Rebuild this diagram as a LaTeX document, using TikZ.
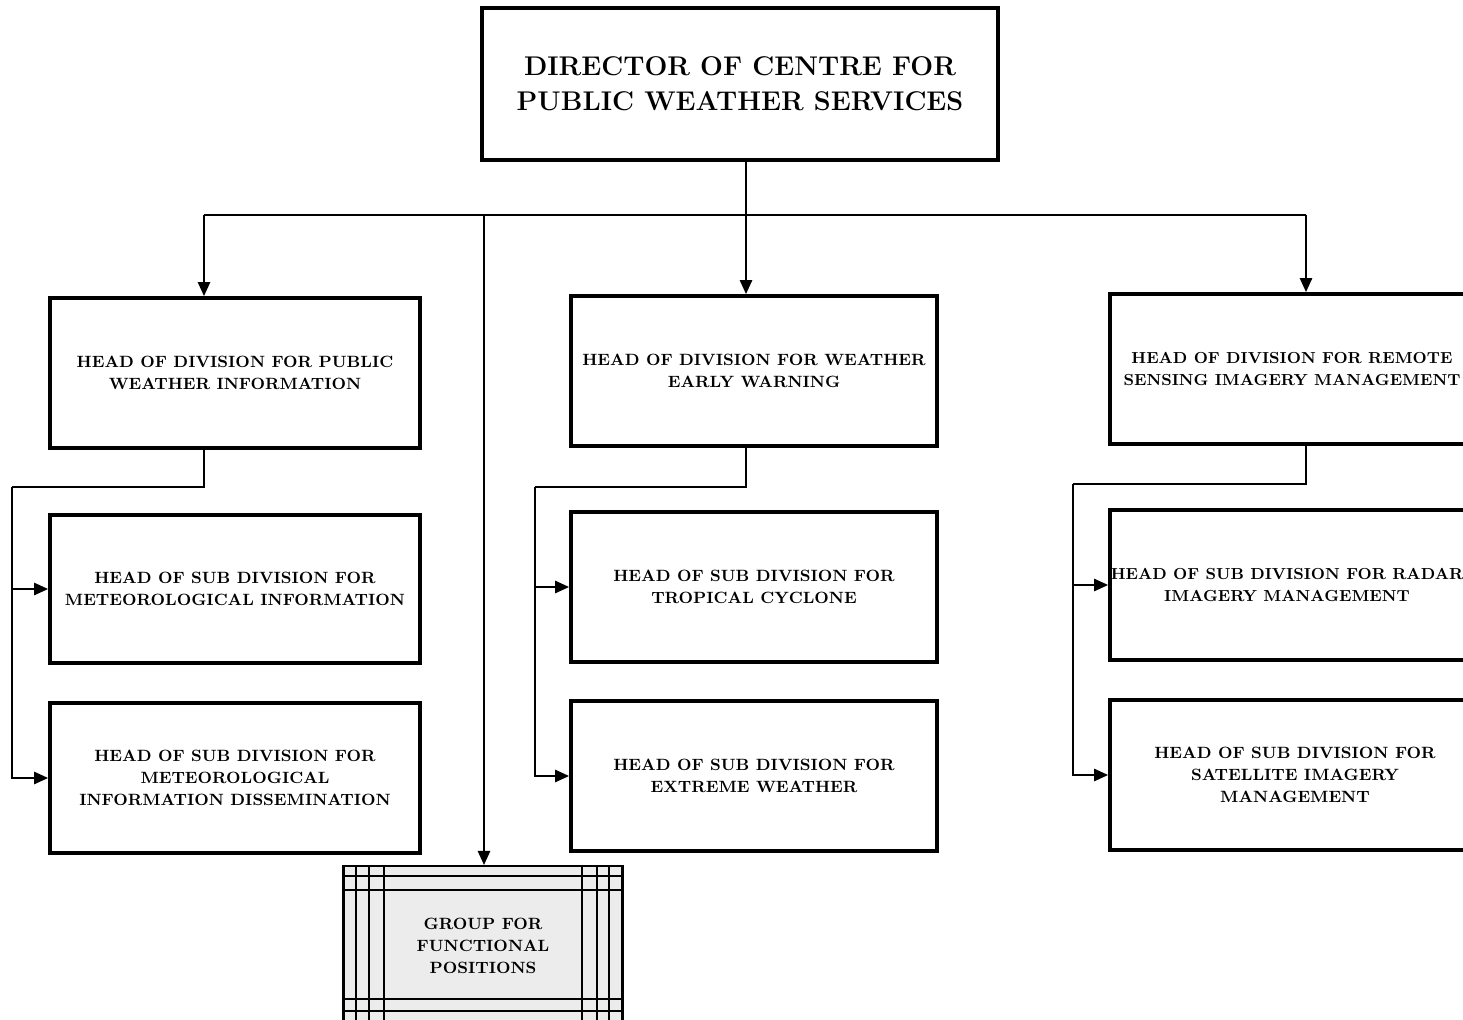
\documentclass[tikz,border=0pt]{standalone}
\usepackage{tikz}
\usetikzlibrary{arrows.meta}
\tikzstyle{box}=[rectangle, draw, fill=white, line width=2.2pt,
                 minimum width=7.4cm, minimum height=3cm,
                 align=center, inner sep=2pt,
                 font=\bfseries\fontsize{9.3}{12.5}\selectfont]
\tikzstyle{boxtext}=[align=center, inner sep=0pt,
                     font=\bfseries\fontsize{9.1}{12.5}\selectfont]
\tikzstyle{topbox}=[box, minimum width=10.32cm, minimum height=3.04cm,
                    font=\bfseries\fontsize{15.4}{20}\selectfont]
\tikzstyle{groupbox}=[box, fill=gray!15, line width=1.2pt,
                      minimum width=5.58cm, minimum height=3.2cm]
\tikzstyle{edge}=[->, >={Triangle[length=8pt,width=7pt]},
                  line width=1.1pt]
\tikzstyle{link}=[line width=1.1pt]
\tikzstyle{gridline}=[line width=1.2pt]

\begin{document}
\begin{tikzpicture}
     \begin{scope}[x=0.02cm, y=-0.02cm]
       \useasboundingbox (0,0) rectangle (1463,1020);
       \clip (0,0) rectangle (1463,1020);

       \node (dir) at (740,84) [topbox]
         {DIRECTOR OF CENTRE FOR\\PUBLIC WEATHER SERVICES};

       \node (div1) at (235,373) [box]
         {HEAD OF DIVISION FOR PUBLIC\\WEATHER INFORMATION};
       \node (div2) at (754,371) [box, minimum width=7.32cm]
         {HEAD OF DIVISION FOR WEATHER\\EARLY WARNING};
       \node (div3) at (1295,369) [box,
         label={[boxtext, xshift=-0.06cm]center:{HEAD OF DIVISION FOR REMOTE\\SENSING IMAGERY MANAGEMENT}}] {};

       \node (sub1a) at (235,589) [box, minimum height=2.96cm]
         {HEAD OF SUB DIVISION FOR\\METEOROLOGICAL INFORMATION};
       \node (sub1b) at (235,778) [box]
         {HEAD OF SUB DIVISION FOR\\METEOROLOGICAL\\INFORMATION DISSEMINATION};
       \node (sub2a) at (754,587) [box, minimum width=7.32cm]
         {HEAD OF SUB DIVISION FOR\\TROPICAL CYCLONE};
       \node (sub2b) at (754,776) [box, minimum width=7.32cm]
         {HEAD OF SUB DIVISION FOR\\EXTREME WEATHER};
       \node (sub3a) at (1295,585) [box,
         label={[boxtext, xshift=-0.16cm]center:{HEAD OF SUB DIVISION FOR RADAR\\IMAGERY MANAGEMENT}}] {};
       \node (sub3b) at (1295,775) [box]
         {HEAD OF SUB DIVISION FOR\\SATELLITE IMAGERY\\MANAGEMENT};

       \node (grp) at (483,946) [groupbox]
         {GROUP FOR\\FUNCTIONAL\\POSITIONS};
       \foreach \x in {356,369,384,582,597,609}
         \draw [gridline] (\x,866) -- (\x,1030);
       \foreach \y in {876,890,999,1011}
         \draw [gridline] (343,\y) -- (622,\y);

       % main bus
       \coordinate (b1) at (204,215);
       \coordinate (b2) at (484,215);
       \coordinate (b3) at (746,215);
       \coordinate (b4) at (1306,215);
       \draw [link] (dir.south -| b3) -- (b3);
       \draw [link] (b1) -- (b4);
       \foreach \b/\n in {b1/div1,b2/grp,b3/div2,b4/div3}
         \draw [edge] (\b) -- (\b |- \n.north);

       % sub division feeds
       \coordinate (l1) at (12,487);
       \coordinate (l2) at (535,487);
       \coordinate (l3) at (1073,484);
       \foreach \b/\l/\n in {b1/l1/div1,b3/l2/div2,b4/l3/div3}
         \draw [link] (\n.south -| \b) -- (\b |- \l) -- (\l);
       \foreach \l/\u/\v in {l1/sub1a/sub1b,l2/sub2a/sub2b,l3/sub3a/sub3b}
       {
         \draw [edge] (\l) -- (\l |- \v.west) -- (\v.west);
         \draw [edge] (\l |- \u.west) -- (\u.west);
       }
     \end{scope}
\end{tikzpicture}
\end{document}
